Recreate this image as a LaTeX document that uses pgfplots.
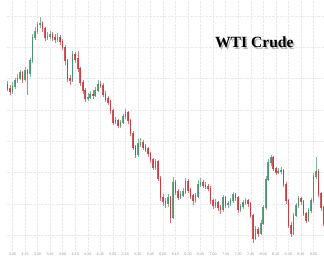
\documentclass[border=0pt]{standalone}
\usepackage{fontspec}
\setmainfont{Liberation Sans}
\newfontfamily\titlefont{Liberation Serif}
\usepackage{pgfplots}
\usepackage{pgfplotstable}
\pgfplotsset{compat=1.18}
\definecolor{upc}{RGB}{62,140,100}
\definecolor{dnc}{RGB}{200,45,50}
\pgfplotstableread{
x o h l c
-6 170 173 163 166
-3 166 169 159 163
0 163 172 160 168
3 168 176 165 174
6 174 181 171 176
9 176 185 174 182
12 182 184 171 175
15 175 188 173 184
18 184 186 159 181
21 181 197 178 194
24 194 221 192 218
27 218 229 215 224
30 224 234 221 231
33 231 239 228 232
36 232 235 224 227
39 227 229 214 218
42 218 223 215 219
45 219 225 216 221
48 221 224 214 218
51 218 221 212 216
54 216 222 213 218
57 218 220 210 214
60 214 216 205 208
63 208 210 190 194
66 194 196 172 176
69 176 180 169 174
72 174 204 172 200
75 200 203 192 196
78 196 204 183 186
81 186 188 168 172
84 172 174 160 164
87 164 166 152 156
90 156 161 153 157
93 157 163 155 160
96 160 164 155 159
99 159 167 157 164
102 164 174 162 170
105 170 173 166 169
108 169 171 157 160
111 160 163 152 155
114 155 158 149 152
117 152 154 140 143
120 143 145 128 131
123 131 137 129 133
126 133 135 125 128
129 128 134 125 131
132 131 140 129 137
135 137 145 135 141
138 141 143 130 133
141 133 135 117 120
144 120 122 103 106
147 106 108 95 98
150 98 114 96 109
153 109 115 106 111
156 111 113 103 106
159 106 109 101 104
162 104 106 96 99
165 99 101 90 93
168 93 95 82 85
171 85 94 83 91
174 91 93 71 74
177 74 76 51 54
180 54 58 46 50
183 50 54 44 48
186 48 58 45 54
189 54 56 28 34
192 34 75 32 70
195 70 72 57 60
198 60 63 52 55
201 55 61 53 57
204 57 64 55 60
207 60 74 58 71
210 71 73 59 62
213 62 64 53 56
216 56 58 47 51
219 51 59 49 56
222 56 72 54 68
225 68 74 65 70
228 70 72 64 67
231 67 70 63 66
234 66 68 61 64
237 64 66 48 51
240 51 53 43 46
243 46 53 44 49
246 49 51 41 44
249 44 47 38 42
252 42 57 40 54
255 54 56 44 47
258 47 51 44 48
261 48 54 46 51
264 51 60 49 57
267 57 59 51 54
270 54 56 39 42
273 42 48 40 45
276 45 52 43 49
279 49 54 47 51
282 51 53 45 48
285 48 50 33 36
288 36 38 8 13
291 13 25 11 22
294 22 24 14 18
297 18 31 16 28
300 28 47 26 44
303 44 76 42 73
306 73 94 71 90
309 90 98 87 95
312 95 97 81 84
315 84 86 77 80
318 80 85 78 81
321 81 86 78 82
324 82 84 65 68
327 68 70 48 51
330 51 53 23 26
333 26 29 14 18
336 18 39 16 36
339 36 49 34 46
342 46 56 44 53
345 53 55 47 50
348 50 52 35 38
351 38 40 28 31
354 31 44 29 41
357 41 54 39 51
360 51 79 49 76
363 76 96 73 81
366 81 84 55 58
369 58 60 41 44
372 44 46 25 28
}\candles
\pgfplotsset{candle/.style={only marks, mark size=0pt, mark options={opacity=0}, forget plot}}
\begin{document}
\begin{tikzpicture}
\begin{axis}[
  scale only axis,
  width=324bp, height=256bp,
  xmin=-7, xmax=372.5,
  ymin=0, ymax=256,
  axis line style={draw=none},
  xtick={0,15,...,360},
  xticklabels={3:00,3:15,3:30,3:45,4:00,4:15,4:30,4:45,5:00,5:15,5:30,5:45,6:00,6:15,6:30,6:45,7:00,7:15,7:30,7:45,8:00,8:15,8:30,8:45,9:00},
  ytick={16,48,...,240},
  yticklabels={},
  major tick length=0pt,
  xticklabel style={font=\fontsize{3.8}{4}\selectfont, text=black!40, yshift=1bp},
  xmajorgrids, ymajorgrids,
  grid style={black!8, densely dotted, line width=0.4pt},
  clip=true,
]
% wicks
\addplot[candle,
  restrict expr to domain={\thisrow{c}-\thisrow{o}}{0:1000},
  error bars/.cd, y dir=both, y explicit,
  error bar style={draw=upc!65, line width=0.45bp}, error mark=none]
  table[x=x, y=c, y error plus expr=\thisrow{h}-\thisrow{c}, y error minus expr=\thisrow{c}-\thisrow{l}] {\candles};
\addplot[candle,
  restrict expr to domain={\thisrow{c}-\thisrow{o}}{-1000:-0.01},
  error bars/.cd, y dir=both, y explicit,
  error bar style={draw=dnc!65, line width=0.45bp}, error mark=none]
  table[x=x, y=c, y error plus expr=\thisrow{h}-\thisrow{c}, y error minus expr=\thisrow{c}-\thisrow{l}] {\candles};
% bodies
\addplot[candle,
  restrict expr to domain={\thisrow{c}-\thisrow{o}}{0:1000},
  error bars/.cd, y dir=both, y explicit,
  error bar style={draw=upc, line width=1.6bp, draw opacity=0.8}, error mark=none]
  table[x=x, y expr=(\thisrow{o}+\thisrow{c})/2, y error expr=abs(\thisrow{c}-\thisrow{o})/2+0.6] {\candles};
\addplot[candle,
  restrict expr to domain={\thisrow{c}-\thisrow{o}}{-1000:-0.01},
  error bars/.cd, y dir=both, y explicit,
  error bar style={draw=dnc, line width=1.6bp, draw opacity=0.8}, error mark=none]
  table[x=x, y expr=(\thisrow{o}+\thisrow{c})/2, y error expr=abs(\thisrow{c}-\thisrow{o})/2+0.6] {\candles};
% title with drop shadow (one node)
\node[text=black, font=\titlefont\bfseries\fontsize{16}{18}\selectfont]
  at (rel axis cs:0.781,0.828)
  {\makebox[0pt][l]{\hspace{1.5bp}\raisebox{-1.5bp}{\textcolor{black!30}{WTI Crude}}}WTI Crude};
\end{axis}
\path (0,-12bp) rectangle (324bp,256bp);
\end{tikzpicture}
\end{document}
